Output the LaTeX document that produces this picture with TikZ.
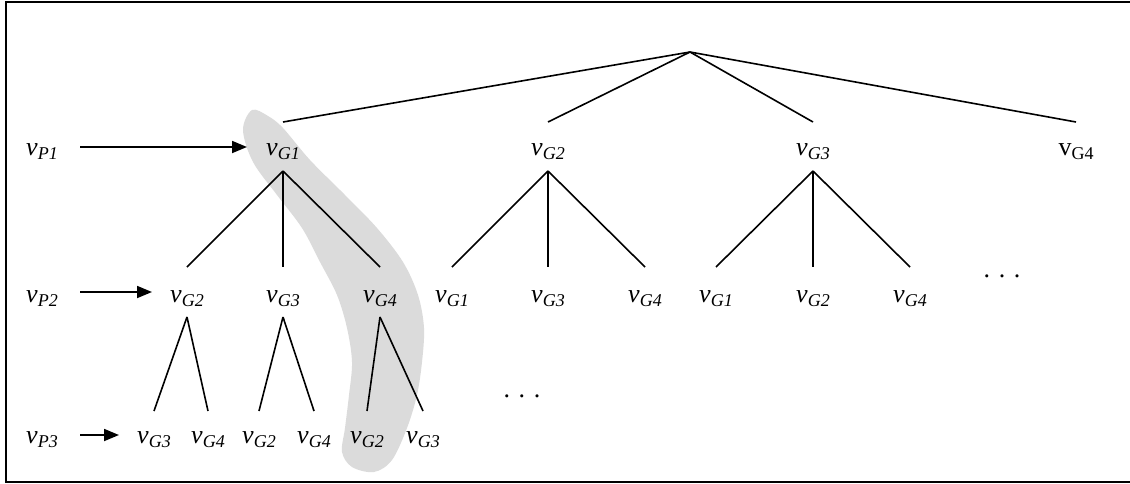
\documentclass[tikz,border=0pt]{standalone}
\usepackage{fontspec}
\setmainfont{Liberation Serif}
\usetikzlibrary{arrows.meta,calc}
\newcommand\vv[1]{\textit{v}\raisebox{-2pt}{\fontsize{9}{9}\selectfont\textit{#1}}}
\newcommand\vu[1]{v\raisebox{-2pt}{\fontsize{9}{9}\selectfont #1}}
\begin{document}
\begin{tikzpicture}[x=0.5pt,y=-0.5pt,
  lab/.style={inner sep=0pt,anchor=base,font=\fontsize{13}{13}\selectfont},
  edge/.style={line width=0.8pt},
  ptr/.style={line width=0.9pt,-{Triangle[length=7.5pt,width=6pt]}},
  band/.style={fill=black!14,draw=none}]
\useasboundingbox (0,0) rectangle (1130,483);
% highlighted band
\fill[band] plot[smooth cycle,tension=0.55] coordinates {
  (252,110) (268,116) (283,128) (310,160) (345,195) (377,228) (403,262)
  (418,295) (424,328) (422,362) (417,395) (407,428) (392,460) (374,472)
  (352,467) (342,452) (345,428) (349,395) (352,362) (347,328) (337,295)
  (320,262) (302,228) (277,195) (253,162) (243,130)};
% frame
\draw[line width=1pt] (1140,2) -- (6,2) -- (6,482) -- (1140,482);
% root
\coordinate (root) at (690,52);
% row 1
\node[lab] (p1) at (42,155) {\vv{P1}};
\node[lab] (g11) at (283,155) {\vv{G1}};
\node[lab] (g12) at (548,155) {\vv{G2}};
\node[lab] (g13) at (813,155) {\vv{G3}};
\node[lab] (g14) at (1076,155) {\vu{G4}};
% row 2
\node[lab] (p2) at (42,302) {\vv{P2}};
\node[lab] (g21) at (187,302) {\vv{G2}};
\node[lab] (g22) at (283,302) {\vv{G3}};
\node[lab] (g23) at (380,302) {\vv{G4}};
\node[lab] (g24) at (452,302) {\vv{G1}};
\node[lab] (g25) at (548,302) {\vv{G3}};
\node[lab] (g26) at (645,302) {\vv{G4}};
\node[lab] (g27) at (716,302) {\vv{G1}};
\node[lab] (g28) at (813,302) {\vv{G2}};
\node[lab] (g29) at (910,302) {\vv{G4}};
\node[lab] (d2) at (1002,277) {. . .};
% row 3
\node[lab] (p3) at (42,443) {\vv{P3}};
\node[lab] (g31) at (154,443) {\vv{G3}};
\node[lab] (g32) at (208,443) {\vv{G4}};
\node[lab] (g33) at (259,443) {\vv{G2}};
\node[lab] (g34) at (314,443) {\vv{G4}};
\node[lab] (g35) at (367,443) {\vv{G2}};
\node[lab] (g36) at (423,443) {\vv{G3}};
\node[lab] (d3) at (522,397) {. . .};
% arrows
\draw[ptr] ($(p1.base)+(38,-8)$) -- ($(g11.base)+(-36,-8)$);
\draw[ptr] ($(p2.base)+(38,-10)$) -- ($(g21.base)+(-35,-10)$);
\draw[ptr] ($(p3.base)+(38,-8)$) -- ($(g31.base)+(-35,-8)$);
% root edges
\foreach \c in {g11,g12,g13,g14}
  \draw[edge] (root) -- ($(\c.base)+(0,-33)$);
% level 1 -> level 2
\foreach \p/\cs in {g11/{g21,g22,g23},g12/{g24,g25,g26},g13/{g27,g28,g29}}
  \foreach \c in \cs
    \draw[edge] ($(\p.base)+(0,16)$) -- ($(\c.base)+(0,-35)$);
% level 2 -> level 3
\foreach \p/\cs in {g21/{g31,g32},g22/{g33,g34},g23/{g35,g36}}
  \foreach \c in \cs
    \draw[edge] ($(\p.base)+(0,15)$) -- ($(\c.base)+(0,-32)$);
\end{tikzpicture}
\end{document}
